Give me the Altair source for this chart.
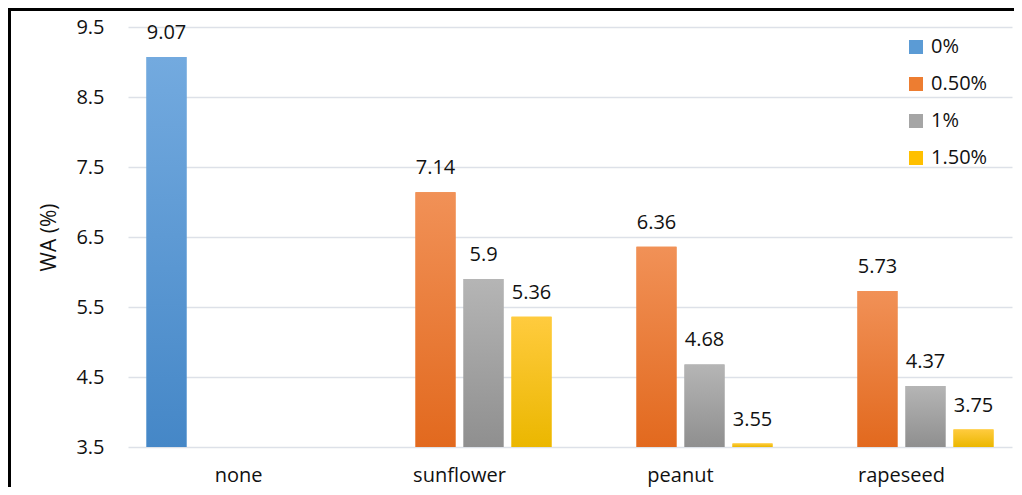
import altair as alt
import pandas as pd

categories = ["none", "sunflower", "sunflower", "sunflower", "peanut", "peanut", "peanut",
              "rapeseed", "rapeseed", "rapeseed"]
series = ["0%", "0.50%", "1%", "1.50%", "0.50%", "1%", "1.50%", "0.50%", "1%", "1.50%"]
values = [9.07, 7.14, 5.9, 5.36, 6.36, 4.68, 3.55, 5.73, 4.37, 3.75]

cat_order = ["none", "sunflower", "peanut", "rapeseed"]
series_order = ["0%", "0.50%", "1%", "1.50%"]
solid = ["#5B9BD5", "#ED7D31", "#A5A5A5", "#FFC000"]
grad_top = ["#73AADF", "#F19157", "#B5B5B5", "#FFCB3E"]
grad_bot = ["#4587C7", "#E2691E", "#8F8F8F", "#EBB700"]
y_ticks = [3.5, 4.5, 5.5, 6.5, 7.5, 8.5, 9.5]

df = pd.DataFrame({"cat": categories, "series": series, "value": values})
df["base"] = 3.5
df["label"] = [str(v) for v in values]

FONT = "Open Sans"
FS = 20

x_enc = alt.X("cat:N", sort=cat_order, title=None,
              scale=alt.Scale(paddingInner=0.131, paddingOuter=0.0656),
              axis=alt.Axis(labelAngle=0, labelFontSize=FS, labelFont=FONT, labelColor="#111",
                            labelPadding=18, ticks=False, domain=False, grid=False))
xo_enc = alt.XOffset("series:N", sort=series_order,
                     scale=alt.Scale(domain=series_order, paddingInner=1/6, paddingOuter=1/12))
y_enc = alt.Y("value:Q", title="WA (%)",
              scale=alt.Scale(domain=[3.5, 9.5], zero=False, nice=False),
              axis=alt.Axis(values=y_ticks, format=".1f", labelFontSize=FS, labelFont=FONT,
                            labelColor="#111", labelPadding=24, ticks=False, domain=False,
                            grid=True, gridColor="#dde1e8", gridWidth=1.5,
                            titleFontSize=21, titleFont=FONT, titleFontWeight="normal",
                            titleColor="#111", titlePadding=16))

base = alt.Chart(df)

bars = base.mark_bar().encode(
    x=x_enc, xOffset=xo_enc, y=y_enc, y2="base:Q",
    color=alt.Color("series:N", sort=series_order,
                    scale=alt.Scale(domain=series_order, range=solid),
                    legend=alt.Legend(title=None, orient="none", legendX=778, legendY=10,
                                      symbolType="square", symbolSize=196, symbolStrokeWidth=0,
                                      labelFontSize=FS, labelFont=FONT, labelColor="#111",
                                      labelOffset=5, rowPadding=17, padding=0)),
)

layers = [bars]
for s, top, bot in zip(series_order, grad_top, grad_bot):
    g = alt.Gradient(gradient="linear", x1=0, y1=0, x2=0, y2=1,
                     stops=[alt.GradientStop(offset=0, color=top),
                            alt.GradientStop(offset=1, color=bot)])
    layers.append(
        base.transform_filter(alt.datum.series == s).mark_bar(fill=g).encode(
            x=x_enc, xOffset=xo_enc, y=y_enc, y2="base:Q")
    )

labels = base.mark_text(fontSize=FS, font=FONT, color="#111", baseline="alphabetic",
                        dy=-18).encode(
    x=x_enc, xOffset=xo_enc, y=y_enc, text="label:N")
layers.append(labels)

dummy = pd.DataFrame({"a": [0]})
top_edge = alt.Chart(dummy).mark_rule(color="#000", strokeWidth=3).encode(
    x=alt.value(-118.5), x2=alt.value(1000), y=alt.value(-17.5))
left_edge = alt.Chart(dummy).mark_rule(color="#000", strokeWidth=3).encode(
    x=alt.value(-118.5), y=alt.value(-19), y2=alt.value(700))
layers += [top_edge, left_edge]

chart = alt.layer(*layers).properties(
    width=884, height=420,
    autosize=alt.AutoSizeParams(type="none"),
    padding={"left": 120, "top": 19, "right": 2, "bottom": 40},
).configure_view(stroke=None)

chart.save("out.html", embed_options={"renderer": "svg", "actions": False})
